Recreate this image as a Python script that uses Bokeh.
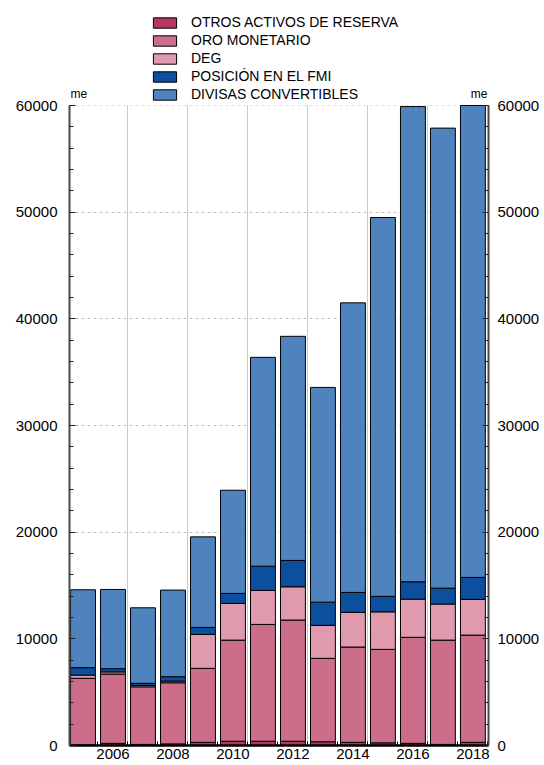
from bokeh.plotting import figure
from bokeh.models import (ColumnDataSource, LinearAxis, FixedTicker, Range1d,
                          SingleIntervalTicker, Label, BoxAnnotation)
from bokeh.embed import file_html
from bokeh.resources import INLINE

years = [2005, 2006, 2007, 2008, 2009, 2010, 2011, 2012, 2013, 2014, 2015, 2016, 2017, 2018]
otros = [50, 200, 100, 150, 300, 400, 400, 400, 350, 300, 250, 200, 100, 300]
oro = [6250, 6500, 5400, 5730, 6930, 9480, 10950, 11360, 7820, 8930, 8760, 9940, 9780, 10050]
deg = [300, 200, 130, 160, 3180, 3440, 3190, 3120, 3090, 3250, 3520, 3580, 3380, 3350]
fmi = [700, 300, 200, 410, 660, 940, 2270, 2470, 2180, 1870, 1450, 1630, 1490, 2060]
divisas = [7300, 7430, 7080, 8120, 8490, 9670, 19580, 21010, 20130, 27150, 35520, 44550, 43130, 44240]

series_keys = ["otros", "oro", "deg", "fmi", "divisas"]
series_names = ["OTROS ACTIVOS DE RESERVA", "ORO MONETARIO", "DEG",
                "POSICIÓN EN EL FMI", "DIVISAS CONVERTIBLES"]
colors = ["#B5385E", "#CC6E8A", "#DF9AAE", "#0B4F9E", "#4F83BD"]
x_tick_labels = [2006, 2008, 2010, 2012, 2014, 2016, 2018]
y_max = 60000
unit_label = "me"

source = ColumnDataSource(dict(year=years, otros=otros, oro=oro, deg=deg,
                               fmi=fmi, divisas=divisas))

FONT = "Liberation Sans"
W, H = 544, 765
LEFT, RIGHT, BOTTOM = 69, 56, 20
PLOT_PX = 640          # pixels between 0 and y_max
frame_h = H - BOTTOM
y_top = y_max * frame_h / PLOT_PX

x0, x1 = years[0] - 0.45, years[-1] + 0.52

p = figure(width=W, height=H,
           x_range=Range1d(x0, x1), y_range=Range1d(0, y_top),
           output_backend="svg", toolbar_location=None,
           min_border_left=LEFT, min_border_right=RIGHT,
           min_border_top=0, min_border_bottom=BOTTOM)
p.outline_line_color = None
p.background_fill_color = "white"
p.border_fill_color = "white"

p.vbar_stack(series_keys, x="year", width=0.83, color=colors,
             line_color="black", line_width=1, source=source,
             legend_label=series_names)

yticker = SingleIntervalTicker(interval=10000, num_minor_ticks=5)

ax = p.yaxis[0]
ax.ticker = yticker
right = LinearAxis(ticker=yticker)
p.add_layout(right, "right")

for a in [ax, right]:
    a.bounds = (0, y_max)
    a.major_tick_in = 6
    a.major_tick_out = 0
    a.minor_tick_in = 4
    a.minor_tick_out = 0
    a.axis_line_color = "#4a4a4a"
    a.axis_line_width = 2
    a.major_tick_line_color = "#222222"
    a.minor_tick_line_color = "#222222"
    a.major_label_text_font = FONT
    a.major_label_text_font_size = "15px"
    a.major_label_text_color = "black"
ax.major_label_standoff = 12
right.major_label_standoff = 9

xa = p.xaxis[0]
xa.ticker = FixedTicker(ticks=x_tick_labels,
                        minor_ticks=[y - 0.5 for y in years] + [years[-1] + 0.5])
xa.major_tick_in = 0
xa.major_tick_out = 0
xa.minor_tick_in = 4
xa.minor_tick_out = 0
xa.minor_tick_line_color = "black"
xa.axis_line_color = "black"
xa.axis_line_width = 2.5
xa.major_label_text_font = FONT
xa.major_label_text_font_size = "15px"
xa.major_label_text_color = "black"
xa.major_label_standoff = 3

p.xgrid.ticker = FixedTicker(ticks=[y + 0.5 for y in x_tick_labels[:-1]])
p.xgrid.grid_line_color = "#c8c8c8"
p.xgrid.grid_line_width = 1
p.ygrid.grid_line_color = "#c0c0c0"
p.ygrid.grid_line_dash = "3 3"
p.ygrid.grid_line_width = 1
p.ygrid.bounds = (0, y_max)

# white cover over the area above the value range (hides grid lines there)
p.add_layout(BoxAnnotation(bottom=y_max, fill_color="white", fill_alpha=1,
                           line_color=None, level="underlay"))

p.add_layout(Label(x=x0, y=y_max, text=unit_label, text_align="left",
                   text_baseline="alphabetic", x_offset=1, y_offset=12,
                   text_font=FONT, text_font_size="12px", text_color="black"))
p.add_layout(Label(x=x1, y=y_max, text=unit_label, text_align="right",
                   text_baseline="alphabetic", x_offset=-1, y_offset=12,
                   text_font=FONT, text_font_size="12px", text_color="black"))

lg = p.legend[0]
lg.location = (81, frame_h - 102)
lg.padding = 0
lg.margin = 0
lg.spacing = 2
lg.glyph_width = 29
lg.glyph_height = 13
lg.label_height = 14
lg.label_standoff = 12
lg.label_text_font = FONT
lg.label_text_font_size = "14px"
lg.label_text_color = "black"
lg.border_line_color = None
lg.background_fill_alpha = 0

open("out.html", "w").write(file_html(p, INLINE))
